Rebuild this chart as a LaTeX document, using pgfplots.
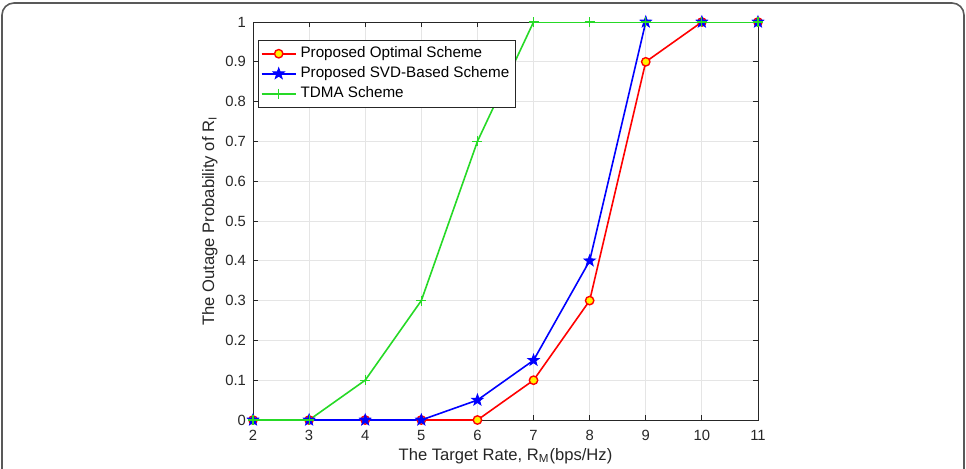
\documentclass[border=0pt]{standalone}
\usepackage{pgfplots}
\pgfplotsset{compat=1.18}
\usepackage{fontspec}
\setmainfont{Liberation Sans}
\usetikzlibrary{plotmarks}
\definecolor{axgray}{gray}{0.15}
\definecolor{mgreen}{rgb}{0.15,0.85,0.15}
\pgfdeclareplotmark{fstar}{%
  \pgfpathmoveto{\pgfqpointpolar{90}{\pgfplotmarksize}}%
  \pgfpathlineto{\pgfqpointpolar{126}{0.4\pgfplotmarksize}}%
  \pgfpathlineto{\pgfqpointpolar{162}{\pgfplotmarksize}}%
  \pgfpathlineto{\pgfqpointpolar{198}{0.4\pgfplotmarksize}}%
  \pgfpathlineto{\pgfqpointpolar{234}{\pgfplotmarksize}}%
  \pgfpathlineto{\pgfqpointpolar{270}{0.4\pgfplotmarksize}}%
  \pgfpathlineto{\pgfqpointpolar{306}{\pgfplotmarksize}}%
  \pgfpathlineto{\pgfqpointpolar{342}{0.4\pgfplotmarksize}}%
  \pgfpathlineto{\pgfqpointpolar{18}{\pgfplotmarksize}}%
  \pgfpathlineto{\pgfqpointpolar{54}{0.4\pgfplotmarksize}}%
  \pgfpathclose
  \pgfusepathqfillstroke}
\begin{document}
\begin{tikzpicture}[x=0.5pt,y=0.5pt]
\useasboundingbox (0,0) rectangle (966,468);
\begin{scope}
\clip (0,0) rectangle (966,468);
\draw[gray!70!black, line width=0.8pt, rounded corners=6pt] (2,-20) rectangle (964,465);
\end{scope}
\begin{axis}[
  at={(126.5pt,24pt)}, anchor=south west,
  scale only axis, width=252.5pt, height=199pt,
  xmin=2, xmax=11, ymin=0, ymax=1,
  xtick={2,3,...,11},
  ytick={0,0.1,...,1},
  yticklabels={0,0.1,0.2,0.3,0.4,0.5,0.6,0.7,0.8,0.9,1},
  /pgf/number format/assume math mode=true,
  tick label style={font=\fontsize{7.4}{8}\selectfont, text=axgray},
  label style={font=\fontsize{8.3}{9}\selectfont, text=axgray},
  xticklabel style={yshift=-1.5pt},
  xlabel={The Target Rate, R$_{\mathrm{M}}$(bps/Hz)},
  ylabel={The Outage Probability of R$_{\mathrm{I}}$},
  xlabel style={yshift=3pt},
  ylabel style={yshift=-3pt},
  grid=major,
  major grid style={gray!20, line width=0.4pt},
  axis line style={axgray, line width=0.4pt},
  tick style={axgray, line width=0.4pt},
  tick align=inside,
  major tick length=2.5pt,
  legend style={at={(0.01,0.955)}, anchor=north west, draw=axgray, line width=0.4pt,
     font=\fontsize{7.6}{8.5}\selectfont, inner sep=1.2pt, row sep=-1pt,
     legend cell align=left},
  legend image post style={line width=0.8pt},
]
\addplot[red, line width=0.8pt, mark=*, mark size=2.1pt, mark options={fill=yellow, draw=red, line width=0.7pt}]
 coordinates {(2,0)(3,0)(4,0)(5,0)(6,0)(7,0.1)(8,0.3)(9,0.9)(10,1)(11,1)};
\addlegendentry{Proposed Optimal Scheme}
\addplot[blue, line width=0.8pt, mark=fstar, mark size=3pt, mark options={fill=blue, draw=blue, line width=0.4pt}]
 coordinates {(2,0)(3,0)(4,0)(5,0)(6,0.05)(7,0.15)(8,0.4)(9,1)(10,1)(11,1)};
\addlegendentry{Proposed SVD-Based Scheme}
\addplot[mgreen, line width=0.8pt, mark=+, mark size=2.5pt, mark options={line width=0.6pt}]
 coordinates {(2,0)(3,0)(4,0.1)(5,0.3)(6,0.7)(7,1)(8,1)(9,1)(10,1)(11,1)};
\addlegendentry{TDMA Scheme}
\end{axis}
\end{tikzpicture}
\end{document}
